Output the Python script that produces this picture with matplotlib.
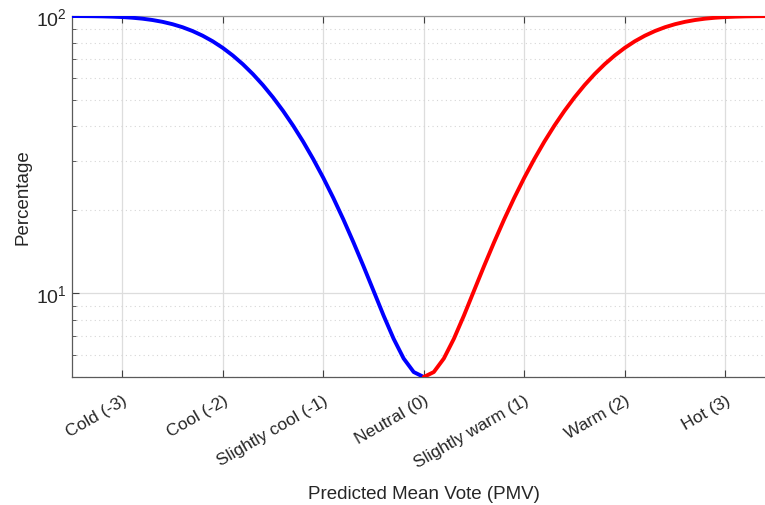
import numpy as np
import matplotlib
matplotlib.use("Agg")
import matplotlib.pyplot as plt
from matplotlib.ticker import LogLocator, NullFormatter

plt.rcParams["font.family"] = ["Liberation Sans", "DejaVu Sans"]

# PMV sample points and PPD (%)
pmv_cold = [-3.5, -3.4, -3.3, -3.2, -3.1, -3.0, -2.9, -2.8, -2.7, -2.6, -2.5, -2.4,
            -2.3, -2.2, -2.1, -2.0, -1.9, -1.8, -1.7, -1.6, -1.5, -1.4, -1.3, -1.2,
            -1.1, -1.0, -0.9, -0.8, -0.7, -0.6, -0.5, -0.4, -0.3, -0.2, -0.1, 0.0]
ppd_cold = [99.96, 99.91, 99.83, 99.70, 99.47, 99.12, 98.58, 97.81, 96.73, 95.29, 93.43, 91.10,
            88.26, 84.91, 81.07, 76.76, 72.05, 67.02, 61.75, 56.35, 50.90, 45.51, 40.27, 35.25,
            30.51, 26.12, 22.10, 18.49, 15.30, 12.55, 10.23, 8.33, 6.87, 5.83, 5.21, 5.00]
pmv_warm = [0.0, 0.1, 0.2, 0.3, 0.4, 0.5, 0.6, 0.7, 0.8, 0.9, 1.0, 1.1,
            1.2, 1.3, 1.4, 1.5, 1.6, 1.7, 1.8, 1.9, 2.0, 2.1, 2.2, 2.3,
            2.4, 2.5, 2.6, 2.7, 2.8, 2.9, 3.0, 3.1, 3.2, 3.3, 3.4, 3.5]
ppd_warm = [5.00, 5.21, 5.83, 6.87, 8.33, 10.23, 12.55, 15.30, 18.49, 22.10, 26.12, 30.51,
            35.25, 40.27, 45.51, 50.90, 56.35, 61.75, 67.02, 72.05, 76.76, 81.07, 84.91, 88.26,
            91.10, 93.43, 95.29, 96.73, 97.81, 98.58, 99.12, 99.47, 99.70, 99.83, 99.91, 99.96]

tick_pos = [-3, -2, -1, 0, 1, 2, 3]
tick_labels = ["Cold (-3)", "Cool (-2)", "Slightly cool (-1)", "Neutral (0)",
               "Slightly warm (1)", "Warm (2)", "Hot (3)"]

W, H = 765, 506
fig = plt.figure(figsize=(W / 100, H / 100), dpi=100)
# right edge of the box runs past the canvas, like the cropped original
ax = fig.add_axes([72 / W, (H - 378) / H, 703.5 / W, 361 / H])

ax.plot(pmv_cold, ppd_cold, color="#0000ff", lw=2.8, solid_capstyle="round", zorder=3)
ax.plot(pmv_warm, ppd_warm, color="#ff0000", lw=2.8, solid_capstyle="round", zorder=3)

ax.set_yscale("log")
ax.set_xlim(-3.5, 3.5)
ax.set_ylim(5, 100)
ax.yaxis.set_major_locator(LogLocator(base=10, numticks=5))
ax.yaxis.set_minor_locator(LogLocator(base=10, subs=np.arange(2, 10), numticks=20))
ax.yaxis.set_minor_formatter(NullFormatter())

ax.set_xticks(tick_pos)
ax.set_xticklabels(tick_labels, rotation=30, ha="right", va="top",
                   rotation_mode="anchor", fontsize=12.5)

ax.grid(True, which="major", color="#dddddd", lw=0.9, ls="-")
ax.grid(True, which="minor", axis="y", color="#d6d6d6", lw=0.8, ls=(0, (1, 3)))
ax.set_axisbelow(True)

for s in ax.spines.values():
    s.set_color("#5a5a5a")
    s.set_linewidth(0.9)
ax.spines["top"].set_color("#9a9a9a")

ax.tick_params(which="both", direction="in", top=True, right=True, colors="#404040",
               labelcolor="#262626")
ax.tick_params(which="major", length=5, width=0.8)
ax.tick_params(which="minor", length=3, width=0.6)
ax.tick_params(axis="y", labelsize=14, pad=4)
ax.tick_params(axis="x", pad=11)

ax.set_xlabel("Predicted Mean Vote (PMV)", fontsize=13.5, color="#262626")
ax.set_ylabel("Percentage", fontsize=13.5, color="#262626")
ax.xaxis.set_label_coords(0.5, -0.298)
ax.yaxis.set_label_coords(-0.057, 0.5)

fig.savefig("out.png", dpi=100)
